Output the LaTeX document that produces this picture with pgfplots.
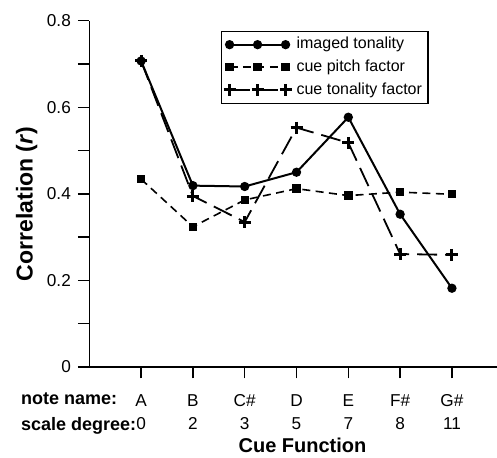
\documentclass[border=0pt]{standalone}
\usepackage{fontspec}
\setmainfont{Liberation Sans}
\usepackage{pgfplots}
\usepackage{pgfplotstable}
\pgfplotsset{compat=1.18}
\usetikzlibrary{calc}

% correlations per cue function (A..G#)
\pgfplotstableread{
idx imaged pitch tonal
0 0.707 0.434 0.707
1 0.419 0.324 0.395
2 0.417 0.386 0.335
3 0.450 0.412 0.553
4 0.577 0.396 0.518
5 0.353 0.404 0.261
6 0.182 0.399 0.259
}\cuedata

\begin{document}
\begin{tikzpicture}
\begin{axis}[
  scale only axis,
  width=203.85pt, height=173.15pt,
  xmin=-1, xmax=6.87, ymin=0, ymax=0.8,
  clip=false,
  axis x line=bottom, axis y line=left,
  axis line style={-, line width=0.7pt},
  every tick/.style={black, line width=0.7pt},
  tick align=outside,
  major tick length=5.7pt, minor tick length=5.7pt,
  xtick={0,...,6},
  xticklabels={{A\\0},{B\\2},{C\#\\3},{D\\5},{E\\7},{F\#\\8},{G\#\\11}},
  xticklabel style={align=center, font=\fontsize{8.6}{11.6}\selectfont, yshift=-4.6pt},
  ytick={0,0.2,0.4,0.6,0.8},
  minor ytick={0.1,0.3,0.5,0.7},
  yticklabels={0,0.2,0.4,0.6,0.8},
  yticklabel style={font=\fontsize{8.6}{10}\selectfont},
  xlabel={\textbf{Cue Function}},
  ylabel={\textbf{Correlation (\textit{r})}},
  every axis x label/.style={at={(axis description cs:0.523,-0.227)}, anchor=center, font=\fontsize{10}{12}\selectfont},
  every axis y label/.style={at={(axis description cs:-0.1535,0.471)}, anchor=center, rotate=90, font=\fontsize{11.5}{13}\selectfont},
  legend style={at={(axis description cs:0.323,0.971)}, anchor=north west,
    draw=black, line width=0.6pt, font=\fontsize{8}{9.6}\selectfont,
    inner xsep=1pt, inner ysep=1pt, row sep=0pt,
    /tikz/every odd column/.append style={column sep=0.5pt}},
  legend cell align=left,
  legend image code/.code={\draw plot coordinates {(0pt,0pt)(14pt,0pt)(28pt,0pt)};},
]
\addplot[black, line width=1pt, mark=*, mark size=1.8pt] table[x=idx,y=imaged]{\cuedata};
\addlegendentry{imaged tonality}
\addplot[black, line width=0.8pt, dash pattern=on 4pt off 2.7pt, mark=square*, mark size=1.7pt, mark options={solid}] table[x=idx,y=pitch]{\cuedata};
\addlegendentry{cue pitch factor}
\addplot[black, line width=0.9pt, dash pattern=on 10pt off 4pt, mark=+, mark size=3pt, mark options={solid, line width=1.5pt}] table[x=idx,y=tonal]{\cuedata};
\addlegendentry{cue tonality factor}

\node[anchor=base west, font=\bfseries\fontsize{9}{11}\selectfont] at (axis description cs:-0.1847,-0.1097) {note name:};
\node[anchor=base west, font=\bfseries\fontsize{9}{11}\selectfont] at (axis description cs:-0.1847,-0.1839) {scale degree:};
\coordinate (o) at (rel axis cs:0,0);
\end{axis}
\pgfresetboundingbox
\path ($(o)+(-44.65pt,-45pt)$) rectangle ++(248.5pt,228.5pt);
\end{tikzpicture}
\end{document}
